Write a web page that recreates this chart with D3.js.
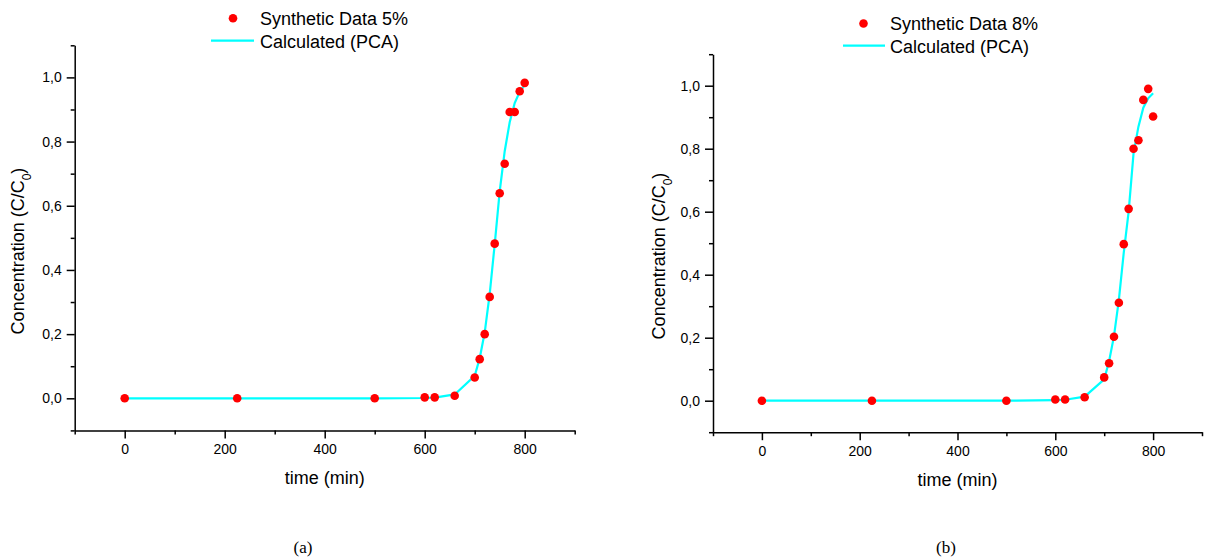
<!DOCTYPE html>
<html>
<head>
<meta charset="utf-8">
<script src="https://cdn.jsdelivr.net/npm/d3@7"></script>
<style>
  body { margin: 0; background: #fff; }
  svg { display: block; font-family: "Liberation Sans", Arial, sans-serif; }
</style>
</head>
<body>
<svg width="1208" height="558"></svg>
<script>
// time points (min), shared by both panels
const timeA = [0,225,500,600,620,660,700,710,720,730,740,750,760,770,780,790,800];
const synthA = [0,0,0,0.003,0.003,0.008,0.065,0.122,0.2,0.316,0.482,0.639,0.731,0.892,0.892,0.957,0.983];
const pcaA = [0,0,0,0.001,0.002,0.012,0.07,0.125,0.205,0.325,0.48,0.645,0.77,0.86,0.92,0.955,0.977];

const timeB = [0,225,500,600,620,660,700,710,720,730,740,750,760,770,780,790,800];
const synthB = [0,0,0,0.004,0.004,0.011,0.074,0.119,0.203,0.311,0.497,0.609,0.8,0.827,0.955,0.99,0.902];
const pcaB = [0,0,0,0.002,0.003,0.013,0.068,0.125,0.205,0.32,0.47,0.6,0.785,0.87,0.93,0.96,0.976];

const xMajor = [0,200,400,600,800];
const xMinor = [-100,100,300,500,700,900];
const yMajor = [0,0.2,0.4,0.6,0.8,1.0];
const yMinor = [-0.1,0.1,0.3,0.5,0.7,0.9,1.1];

const svg = d3.select("svg");
const fmt = d => d3.format(".1f")(d).replace(".", ",");

const Panel = (cfg) => {
  const {left, right, top, bottom, time, synth, pca, label, legend, caption, yTitle} = cfg;

  const x = d3.scaleLinear().domain([-100, 900]).range([left, right]);
  const y = d3.scaleLinear().domain([-0.1, 1.1]).range([bottom, top]);
  const g = svg.append("g");

  // minor ticks
  g.append("g").attr("transform", `translate(0,${bottom})`)
    .call(d3.axisBottom(x).tickValues(xMinor).tickSize(4).tickFormat(""))
    .call(a => a.select(".domain").remove());
  g.append("g").attr("transform", `translate(${left},0)`)
    .call(d3.axisLeft(y).tickValues(yMinor).tickSize(4).tickFormat(""))
    .call(a => a.select(".domain").remove());

  // major ticks + axis lines
  g.append("g").attr("transform", `translate(0,${bottom})`)
    .call(d3.axisBottom(x).tickValues(xMajor).tickSize(8).tickSizeOuter(0).tickPadding(6));
  g.append("g").attr("transform", `translate(${left},0)`)
    .call(d3.axisLeft(y).tickValues(yMajor).tickSize(8).tickSizeOuter(0).tickPadding(5).tickFormat(fmt));

  g.selectAll(".tick line, .domain").attr("stroke", "#000").attr("stroke-width", 1.5);
  g.selectAll(".tick text").attr("font-size", 14).attr("fill", "#000")
    .attr("font-family", "Liberation Sans, Arial, sans-serif");

  // axis titles
  g.append("text")
    .attr("x", (left + right) / 2).attr("y", bottom + 54)
    .attr("text-anchor", "middle").attr("font-size", 18)
    .text("time (min)");
  const yt = g.append("text")
    .attr("transform", `translate(${yTitle.x},${yTitle.y}) rotate(-90)`)
    .attr("text-anchor", "middle").attr("dy", "0.35em").attr("font-size", 18);
  yt.append("tspan").text("Concentration (C/C");
  yt.append("tspan").attr("font-size", 12).attr("baseline-shift", "sub").text("0");
  yt.append("tspan").text(")");

  // calculated line
  const line = d3.line().x((d, i) => x(time[i])).y(d => y(d));
  g.append("path").datum(pca)
    .attr("fill", "none").attr("stroke", "#00ffff").attr("stroke-width", 2.2)
    .attr("d", line);

  // synthetic points
  g.selectAll("circle.pt").data(synth).join("circle")
    .attr("class", "pt")
    .attr("cx", (d, i) => x(time[i])).attr("cy", d => y(d))
    .attr("r", 4.3).attr("fill", "#ff0000");

  // legend
  g.append("circle").attr("cx", legend.dotX).attr("cy", legend.dotY).attr("r", 4.3).attr("fill", "#ff0000");
  g.append("text").attr("x", legend.textX).attr("y", legend.dotY + 6.5)
    .attr("font-size", 18).text(label);
  g.append("line")
    .attr("x1", legend.lineX1).attr("x2", legend.lineX2)
    .attr("y1", legend.lineY).attr("y2", legend.lineY)
    .attr("stroke", "#00ffff").attr("stroke-width", 2.2);
  g.append("text").attr("x", legend.textX).attr("y", legend.lineY + 7)
    .attr("font-size", 18).text("Calculated (PCA)");

  // caption
  svg.append("text").attr("x", caption.x).attr("y", caption.y)
    .attr("text-anchor", "middle").attr("font-size", 17)
    .attr("font-family", "Liberation Serif, Times New Roman, serif")
    .text(caption.text);
};

Panel({
  left: 74.7, right: 574.7, top: 45.3, bottom: 430.4,
  time: timeA, synth: synthA, pca: pcaA,
  label: "Synthetic Data 5%", yTitle: {x: 18, y: 251},
  legend: {dotX: 233, dotY: 18.3, textX: 260, lineX1: 211, lineX2: 254, lineY: 40.7},
  caption: {x: 303, y: 553, text: "(a)"}
});

Panel({
  left: 713, right: 1202, top: 54.2, bottom: 432.2,
  time: timeB, synth: synthB, pca: pcaB,
  label: "Synthetic Data 8%", yTitle: {x: 659, y: 256},
  legend: {dotX: 863.5, dotY: 23.5, textX: 890, lineX1: 843, lineX2: 885, lineY: 45.7},
  caption: {x: 946, y: 553, text: "(b)"}
});
</script>
</body>
</html>
